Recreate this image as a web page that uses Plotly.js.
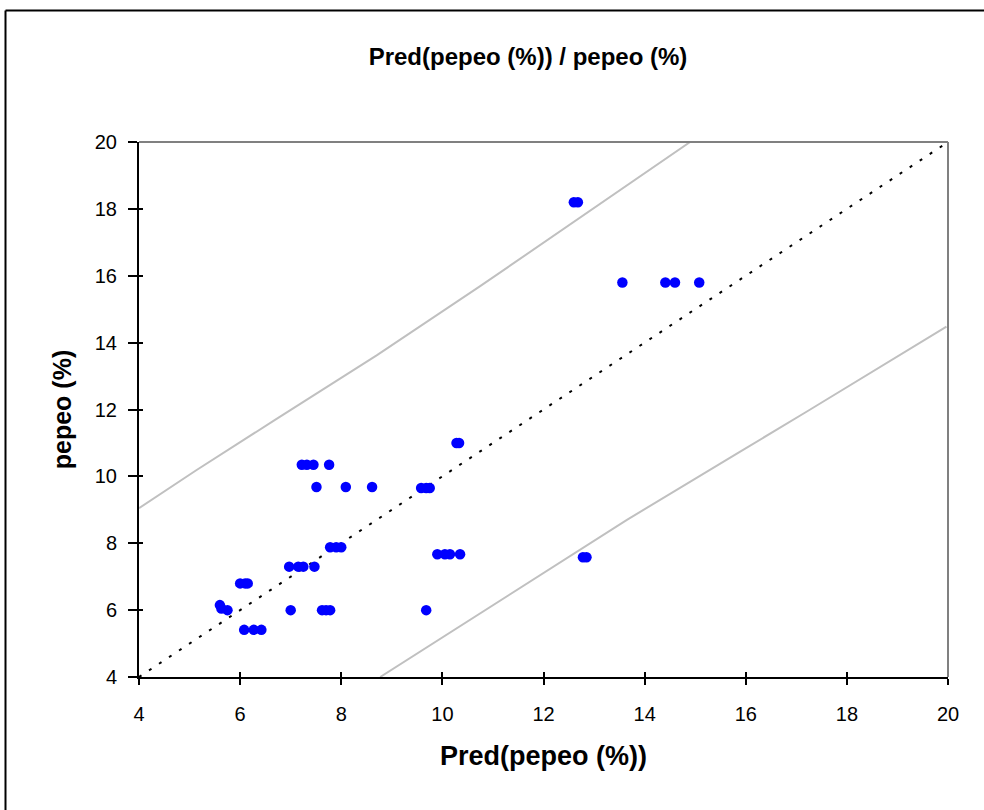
<!DOCTYPE html>
<html>
<head>
<meta charset="utf-8">
<script src="https://cdn.plot.ly/plotly-3.0.1.min.js"></script>
<style>html,body{margin:0;padding:0;background:#fff;}#chart{width:984px;height:810px;}</style>
</head>
<body>
<div id="chart"></div>
<script>
// Observed points: predicted vs actual
const predX = [10.28, 10.33,
  7.22, 7.32, 7.45, 7.76,
  7.51, 8.09, 8.61, 9.58, 9.68, 9.75,
  7.78, 7.90, 8.00,
  9.90, 10.05, 10.15, 10.35,
  6.97, 7.15, 7.25, 7.47,
  6.00, 6.10, 6.15,
  5.60, 5.63, 5.75,
  7.00, 7.62, 7.70, 7.78, 9.68,
  6.08, 6.27, 6.42,
  12.60, 12.68,
  13.56, 14.41, 14.60, 15.08,
  12.78, 12.85];
const actualY = [11.0, 11.0,
  10.35, 10.35, 10.35, 10.35,
  9.68, 9.68, 9.68, 9.65, 9.65, 9.65,
  7.88, 7.88, 7.88,
  7.67, 7.67, 7.67, 7.67,
  7.30, 7.30, 7.30, 7.30,
  6.80, 6.80, 6.80,
  6.15, 6.05, 6.00,
  6.00, 6.00, 6.00, 6.00, 6.00,
  5.41, 5.41, 5.41,
  18.2, 18.2,
  15.8, 15.8, 15.8, 15.8,
  7.58, 7.58];

// Identity line
const diagX = [4, 20];
const diagY = [4, 20];

// Upper and lower prediction bands
const upperX = [4, 5.14, 6.69, 8.7, 10.74, 12.8, 14.9];
const upperY = [9.05, 10.19, 11.69, 13.62, 15.68, 17.83, 20.0];
const lowerX = [8.77, 10.0, 12.35, 13.65, 15.89, 17.21, 19.97];
const lowerY = [4.0, 5.18, 7.45, 8.70, 10.74, 11.94, 14.48];

const xTicks = [4, 6, 8, 10, 12, 14, 16, 18, 20];
const yTicks = [4, 6, 8, 10, 12, 14, 16, 18, 20];

const titleText = 'Pred(pepeo (%)) / pepeo (%)';
const xTitle = 'Pred(pepeo (%))';
const yTitle = 'pepeo (%)';

const FONT = 'Liberation Sans, Arial, sans-serif';

const traces = [
  {x: upperX, y: upperY, mode: 'lines', line: {color: '#c0c0c0', width: 2}, hoverinfo: 'skip', showlegend: false},
  {x: lowerX, y: lowerY, mode: 'lines', line: {color: '#c0c0c0', width: 2}, hoverinfo: 'skip', showlegend: false},
  {x: diagX, y: diagY, mode: 'lines', line: {color: '#000000', width: 2, dash: '3px,9px'}, hoverinfo: 'skip', showlegend: false},
  {x: predX, y: actualY, mode: 'markers', marker: {color: '#0000ff', size: 10.5}, showlegend: false},
  {x: [4], y: [4], xaxis: 'x2', yaxis: 'y2', mode: 'markers', marker: {opacity: 0}, hoverinfo: 'skip', showlegend: false}
];

const L = 139, R = 948, T = 142, B = 677;
const pw = R - L, ph = B - T;
function px(v) { return (v - L) / pw; }
function py(v) { return (B - v) / ph; }

const layout = {
  width: 984, height: 810,
  margin: {l: L, r: 984 - R, t: T, b: 810 - B},
  paper_bgcolor: '#ffffff', plot_bgcolor: '#ffffff',
  font: {family: FONT, color: '#000000', size: 20},
  title: {text: '<b>' + titleText + '</b>', font: {family: FONT, size: 24, color: '#000'},
          x: px(528), xref: 'paper', xanchor: 'center', y: 1 - 57 / 810, yanchor: 'middle'},
  xaxis: {range: [4, 20], tickvals: xTicks, ticktext: xTicks.map(String), ticks: 'outside', ticklen: 6, tickwidth: 2,
          tickcolor: '#000', showline: true, linecolor: '#000', linewidth: 2, showgrid: false, zeroline: false,
          ticklabelstandoff: 12,
          tickfont: {family: FONT, size: 20}, title: {text: '<b>' + xTitle + '</b>', font: {family: FONT, size: 27}, standoff: 22}},
  yaxis: {range: [4, 20], tickvals: yTicks, ticktext: yTicks.map(String), ticks: 'outside', ticklen: 9, tickwidth: 2,
          tickcolor: '#000', showline: true, linecolor: '#000', linewidth: 2, showgrid: false, zeroline: false,
          ticklabelstandoff: 7,
          tickfont: {family: FONT, size: 20}, title: {text: '<b>' + yTitle + '</b>', font: {family: FONT, size: 25}, standoff: 16}},
  xaxis2: {range: [4, 20], overlaying: 'x', anchor: 'y2', tickvals: xTicks, ticks: 'inside', ticklen: 5, tickwidth: 2, tickcolor: '#000',
           showticklabels: false, showline: false, showgrid: false, zeroline: false},
  yaxis2: {range: [4, 20], overlaying: 'y', anchor: 'x2', tickvals: yTicks, ticks: 'inside', ticklen: 4, tickwidth: 2, tickcolor: '#000',
           showticklabels: false, showline: false, showgrid: false, zeroline: false},
  shapes: [
    {type: 'line', xref: 'paper', yref: 'paper', x0: 0, x1: 1, y0: 1, y1: 1, line: {color: '#808080', width: 2}},
    {type: 'line', xref: 'paper', yref: 'paper', x0: 1, x1: 1, y0: 0, y1: 1, line: {color: '#808080', width: 2}},
    {type: 'line', xref: 'paper', yref: 'paper', x0: px(5.5), x1: px(1200), y0: py(10.5), y1: py(10.5), line: {color: '#000', width: 2}},
    {type: 'line', xref: 'paper', yref: 'paper', x0: px(5.5), x1: px(5.5), y0: py(10.5), y1: py(1200), line: {color: '#000', width: 2}}
  ]
};

Plotly.newPlot('chart', traces, layout, {displayModeBar: false, staticPlot: true});
</script>
</body>
</html>
